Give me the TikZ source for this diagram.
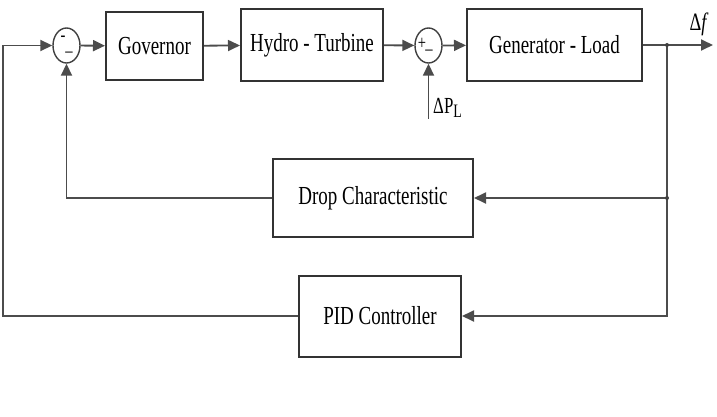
\documentclass[tikz,border=0pt]{standalone}
\usepackage{fontspec}
\setmainfont{Liberation Serif}[FakeStretch=0.73]
\usepackage{tikz}
\usetikzlibrary{shapes, arrows.meta, positioning, calc}

\tikzset{
    block/.style={draw=black!80, line width=2pt, rectangle, inner sep=0pt, font=\fontsize{26}{28}\selectfont},
    sumnode/.style={draw=black!75, line width=1.4pt, ellipse, minimum width=27pt, minimum height=35pt, inner sep=0pt},
    sign/.style={inner sep=0pt, font=\fontsize{20}{20}\selectfont},
    link/.style={draw=black!70, line width=1.8pt, -{Triangle[length=12pt,width=11pt]}},
    wire/.style={draw=black!70, line width=1.8pt},
}

\begin{document}
\begin{tikzpicture}[x=1pt, y=-1pt]
    \useasboundingbox (0,0) rectangle (717,417);
    % forward path
    \node[sumnode] (sum1) at (66.5,45.5) {};
    \node[block, minimum width=97pt, minimum height=68pt] (gov) at (154.5,46) {Governor};
    \node[block, minimum width=142pt, minimum height=72pt] (turb) at (312,45) {Hydro - Turbine};
    \node[sumnode] (sum2) at (428.5,45.5) {};
    \node[block, minimum width=175pt, minimum height=72pt] (gen) at (554.5,45) {Generator - Load};
    % feedback blocks
    \node[block, minimum width=200pt, minimum height=78pt] (drop) at (373,198) {Drop Characteristic};
    \node[block, minimum width=162pt, minimum height=81pt] (pid) at (380,316) {PID Controller};
    % signs
    \node[sign] (s1a) at (63,39) {-};
    \node[sign] (s1b) at (69,52) {\_};
    \node[sign] (s2a) at (422,44) {+};
    \node[sign] (s2b) at (429,50) {\_};
    % labels
    \node[font=\fontsize{25}{25}\selectfont] (df) at (699,24) {Δ\textit{f}};
    \node[font=\fontsize{23}{23}\selectfont, anchor=west, inner sep=0pt] (dpl) at (433,108) {ΔP\textsubscript{\fontsize{19}{19}\selectfont L}};
    \coordinate (tap) at (667,45);
    \coordinate (out) at (713,45);
    \coordinate (load) at (428.5,119);
    \coordinate (left) at (3,45.5);
    \draw[link] (sum1) -- (gov);
    \draw[link] (gov) -- (turb);
    \draw[link] (turb) -- (sum2);
    \draw[link] (sum2) -- (gen);
    \draw[link] (gen.east) -- (out);
    \draw[link] (load) -- (sum2.south);
    \draw[link] (tap) |- (drop.east);
    \draw[link] (tap) |- (pid.east);
    \draw[link] (drop.west) -| (sum1.south);
    \draw[link] (pid.west) -| (left) -- (sum1.west);
    \foreach \p in {tap, {tap |- drop.east}} {
        \fill[black!75] (\p) circle (2pt);
    }
\end{tikzpicture}
\end{document}
